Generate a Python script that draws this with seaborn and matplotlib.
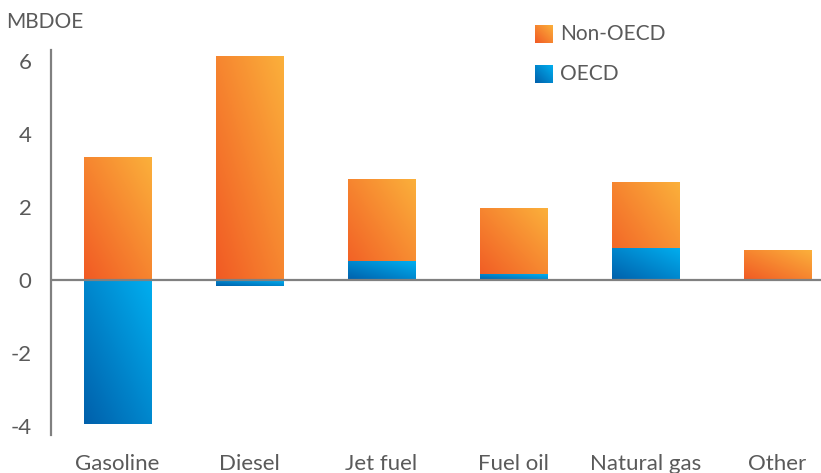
"""Liquids demand growth by product, OECD vs Non-OECD."""
import matplotlib
matplotlib.use("Agg")
import matplotlib.pyplot as plt
import numpy as np
import seaborn as sns
from matplotlib.colors import LinearSegmentedColormap

categories = ["Gasoline", "Diesel", "Jet fuel", "Fuel oil", "Natural gas", "Other"]
oecd = [-3.95, -0.16, 0.52, 0.16, 0.88, 0.0]
non_oecd = [3.37, 6.14, 2.25, 1.81, 1.80, 0.82]

sns.set_style("white")
plt.rcParams["font.family"] = ["Lato", "DejaVu Sans"]
plt.rcParams["axes.unicode_minus"] = False

ORANGE = LinearSegmentedColormap.from_list("orange", ["#f15a24", "#fbb03b"])
BLUE = LinearSegmentedColormap.from_list("blue", ["#0060ab", "#00aeef"])
GREY = "#808080"
TEXT = "#5a5a5a"

grad = np.add.outer(np.linspace(0, 1, 64), np.linspace(0, 1, 64)) / 2


def fill_gradient(ax, patch, cmap):
    x0, y0 = patch.get_x(), patch.get_y()
    w, h = patch.get_width(), patch.get_height()
    if h == 0:
        patch.set_visible(False)
        return
    y_lo, y_hi = min(y0, y0 + h), max(y0, y0 + h)
    im = ax.imshow(grad, cmap=cmap, origin="lower", aspect="auto",
                   extent=(x0, x0 + w, y_lo, y_hi), zorder=2)
    im.set_clip_path(patch)
    patch.set_facecolor("none")
    patch.set_edgecolor("none")


fig = plt.figure(figsize=(8.21, 4.73), dpi=100)
ax = fig.add_axes([51 / 821, 1 - 435 / 473, 770 / 821, 385 / 473])

# non-OECD sits on top of the OECD part when OECD is positive
tops = [n + max(o, 0) for o, n in zip(oecd, non_oecd)]
sns.barplot(x=categories, y=tops, color="#f7931e", width=0.51,
            errorbar=None, ax=ax)
sns.barplot(x=categories, y=oecd, color="#0088d1", width=0.51,
            errorbar=None, ax=ax)

n = len(categories)
for i, p in enumerate(list(ax.patches)):
    fill_gradient(ax, p, ORANGE if i < n else BLUE)

ax.axhline(0, color=GREY, lw=1.6, zorder=5)
ax.set_xlim(-0.504, 5.33)
ax.set_ylim(-4.25, 6.3)
ax.set_yticks([-4, -2, 0, 2, 4, 6])
ax.set_xlabel("")
ax.set_ylabel("")
for s in ["top", "right", "bottom"]:
    ax.spines[s].set_visible(False)
ax.spines["left"].set_color(GREY)
ax.spines["left"].set_linewidth(1.6)
ax.tick_params(axis="y", length=0, pad=14, labelsize=16, labelcolor=TEXT)
ax.tick_params(axis="x", length=0, pad=14, labelsize=16, labelcolor=TEXT)

fig.text(6 / 821, 1 - 22 / 473, "MBDOE", fontsize=15, color=TEXT, va="center")

# legend with gradient swatches
for ypx, cmap, label in [(25, ORANGE, "Non-OECD"), (65, BLUE, "OECD")]:
    sw = fig.add_axes([535 / 821, 1 - (ypx + 18) / 473, 18 / 821, 18 / 473])
    sw.imshow(grad, cmap=cmap, origin="lower", aspect="auto")
    sw.axis("off")
    fig.text(560 / 821, 1 - (ypx + 9) / 473, label, fontsize=15,
             color=TEXT, va="center")

fig.savefig("out.png", dpi=100)
